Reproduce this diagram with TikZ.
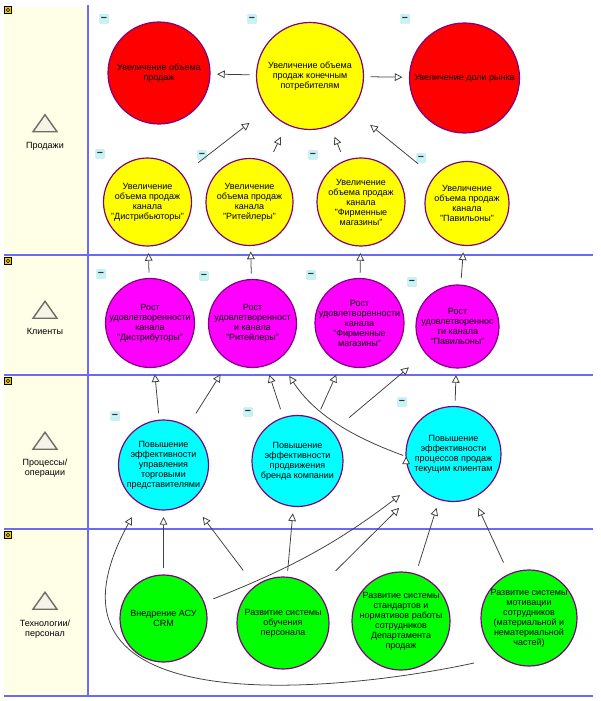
\documentclass[tikz,border=0pt]{standalone}
\usepackage{fontspec}
\setmainfont{Liberation Sans}
\usetikzlibrary{arrows.meta,calc,shapes.geometric}

\def\px{0.025cm}
\definecolor{lanefill}{HTML}{FFFFE8}
\definecolor{laneline}{HTML}{6A6AF5}
\definecolor{goalline}{HTML}{800080}
\definecolor{linkline}{HTML}{404040}
\definecolor{hidefill}{HTML}{C6F3F6}
\definecolor{hubfill}{HTML}{F2C800}
\definecolor{trifill}{HTML}{F4F4E8}
\definecolor{triline}{HTML}{6E6E62}
\definecolor{goalred}{HTML}{FF0000}
\definecolor{goalyellow}{HTML}{FFFF00}
\definecolor{goalpink}{HTML}{FF00FF}
\definecolor{goalcyan}{HTML}{00FFFF}
\definecolor{goalgreen}{HTML}{00FF00}
\tikzset{
	txt/.style={font=\fontsize{6.4}{7.1}\selectfont,align=center,inner sep=0},
	goal/.style 2 args={txt,circle,draw=goalline,line width=0.85pt,fill=#1,minimum size=#2*\px,inner sep=-14pt,outer sep=0},
	gaps/.style 2 args={shorten <=#1*\px,shorten >=#2*\px},
	hide/.style={rectangle,rounded corners=0.6pt,fill=hidefill,draw=hidefill!80!gray,line width=0.2pt,minimum size=9*\px,inner sep=0,font=\fontsize{7.5}{7.5}\bfseries\selectfont,text=black!80},
	hub/.style={rectangle,draw=black,line width=0.5pt,fill=hubfill,minimum size=7*\px,inner sep=0,
		path picture={\draw[line width=0.4pt] (path picture bounding box.center) circle (1.2pt);}},
	lane/.style={isosceles triangle,isosceles triangle stretches,shape border rotate=90,draw=triline,fill=trifill,line width=1pt,minimum width=24*\px,minimum height=17*\px,inner sep=0},
}

\begin{document}
\begin{tikzpicture}[x=\px,y=-\px]
		\useasboundingbox (0,0) rectangle (600,701);
		\fill[lanefill] (4,7) rectangle (88,696);
		\draw[laneline,line width=0.75pt] (88,5) -- (88,696);
		\draw[laneline,line width=0.75pt] (4,255) -- (593,255);
		\draw[laneline,line width=0.75pt] (4,375) -- (593,375);
		\draw[laneline,line width=0.75pt] (4,529) -- (593,529);
		\draw[laneline,line width=0.75pt] (4,696) -- (593,696);

		\node[hub] (H1) at (8,10) {};
		\node[hub] (H2) at (8,261) {};
		\node[hub] (H3) at (8,381) {};
		\node[hub] (H4) at (8,535) {};

		\node[lane] (L1) at (45,125.5) {};
		\node[txt] (L1T) at (45,146) {Продажи};
		\node[lane] (L2) at (45,312) {};
		\node[txt] (L2T) at (45,331) {Клиенты};
		\node[lane] (L3) at (45,443) {};
		\node[txt] (L3T) at (45,468) {Процессы/\\операции};
		\node[lane] (L4) at (45,603) {};
		\node[txt] (L4T) at (45,629) {Технологии/\\персонал};

		\node[hide] (I1) at (104,19) {−};
		\node[hide] (I2) at (252,19) {−};
		\node[hide] (I3) at (405,19) {−};
		\node[hide] (I4) at (100,154) {−};
		\node[hide] (I5) at (202,155) {−};
		\node[hide] (I6) at (313,155) {−};
		\node[hide] (I7) at (421,158) {−};
		\node[hide] (I8) at (101,274) {−};
		\node[hide] (I9) at (204,276) {−};
		\node[hide] (I10) at (311,275) {−};
		\node[hide] (I11) at (412,282) {−};
		\node[hide] (I12) at (115,416) {−};
		\node[hide] (I13) at (248,412) {−};
		\node[hide] (I14) at (402,402) {−};

		\begin{scope}[every path/.style={line width=0.55pt,draw=linkline,->,>={Triangle[open,fill=white,length=5.5pt,width=5.5pt]}}]
			\node[goal={goalred}{102}] (R1) at (159,73) {Увеличение объема\\продаж};
			\node[goal={goalyellow}{107}] (T) at (310,76) {Увеличение объема\\продаж конечным\\потребителям};
			\node[goal={goalred}{110}] (R2) at (464.5,78) {Увеличение доли рынка};

			\node[goal={goalyellow}{88}] (Y1) at (147.5,202) {Увеличение\\объема продаж\\канала\\"Дистрибьюторы"};
			\node[goal={goalyellow}{87}] (Y2) at (249.5,202) {Увеличение\\объема продаж\\канала\\"Ритейлеры"};
			\node[goal={goalyellow}{88}] (Y3) at (361,202) {Увеличение\\объема продаж\\канала\\"Фирменные\\магазины"};
			\node[goal={goalyellow}{84}] (Y4) at (467,203.5) {Увеличение\\объема продаж\\канала\\"Павильоны"};

			\node[goal={goalpink}{89}] (M1) at (150,323) {Рост\\удовлетворенности\\канала\\"Дистрибуторы"};
			\node[goal={goalpink}{88}] (M2) at (252.5,323.5) {Рост\\удовлетворенност\\и канала\\"Ритейлеры"};
			\node[goal={goalpink}{89}] (M3) at (359.5,323) {Рост\\удовлетворенности\\канала\\"Фирменные\\магазины"};
			\node[goal={goalpink}{83}] (M4) at (457.5,326.5) {Рост\\удовлетвореннос\\ти канала\\"Павильоны"};

			\node[goal={goalcyan}{90}] (C1) at (163.5,465) {Повышение\\эффективности\\управления\\торговыми\\представителями};
			\node[goal={goalcyan}{91}] (C2) at (297.5,461) {Повышение\\эффективности\\продвижения\\бренда компании};
			\node[goal={goalcyan}{95}] (C3) at (453.5,454) {Повышение\\эффективности\\процессов продаж\\текущим клиентам};

			\node[goal={goalgreen}{87}] (G1) at (163.5,618.5) {Внедрение АСУ\\CRM};
			\node[goal={goalgreen}{92}] (G2) at (283,623) {Развитие системы\\обучения\\персонала};
			\node[goal={goalgreen}{98}] (G3) at (401,621) {Развитие системы\\стандартов и\\нормативов работы\\сотрудников\\Департамента\\продаж};
			\node[goal={goalgreen}{96}] (G4) at (529,618) {Развитие системы\\мотивации\\сотрудников\\(материальной и\\нематериальной\\частей)};

			\path (T) edge[gaps={7}{7}] (R1);
			\path (T) edge[gaps={7}{7}] (R2);
			\path (Y1) edge[gaps={20}{23}] (T);
			\path (Y2) edge[gaps={12}{14}] (T);
			\path (Y3) edge[gaps={10}{12}] (T);
			\path (Y4) edge[gaps={21}{24}] (T);

			\path (M1) edge[gaps={6}{7}] (Y1);
			\path (M2) edge[gaps={6}{6}] (Y2);
			\path (M3) edge[gaps={6}{7}] (Y3);
			\path (M4) edge[gaps={7}{7}] (Y4);

			\path (C1) edge[gaps={7}{7}] (M1);
			\path (C1) edge[gaps={16}{16}] (M2);
			\path (C2) edge[gaps={9}{10}] (M2);
			\path (C2) edge[gaps={11}{12}] (M3);
			\path (C2) edge[gaps={22}{22}] (M4);
			\path (C3) edge[gaps={6}{7}] (M4);
			\path (C3.183) edge[gaps={3}{20},out=160,in=-57] (M2.-54);

			\path (G1) edge[gaps={7}{7}] (C1);
			\path (G2) edge[gaps={20}{20}] (C1);
			\path (G2) edge[gaps={6}{7}] (C2);
			\path (G1) edge[gaps={10}{20},bend right=8] (C3);
			\path (G2) edge[gaps={28}{29}] (C3);
			\path (G3) edge[gaps={9}{9}] (C3);
			\path (G4) edge[gaps={13}{12}] (C3);
			\draw ($(G4)+(-55,45)$) .. controls (350,690) and (15,730) .. ($(C1)+(-31.5,52)$);
		\end{scope}
\end{tikzpicture}
\end{document}
